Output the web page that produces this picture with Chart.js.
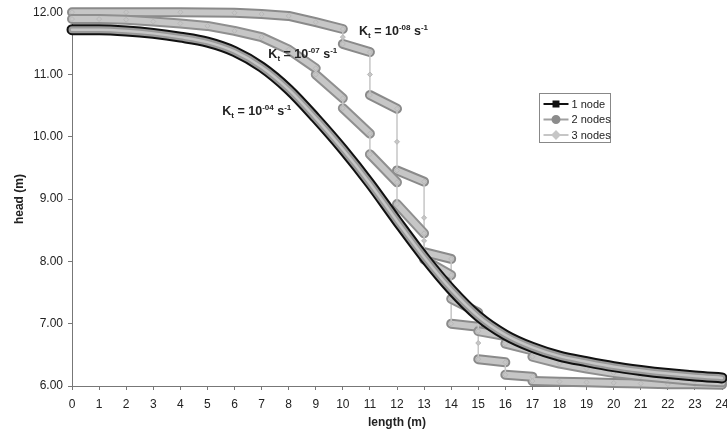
<!DOCTYPE html>
<html>
<head>
<meta charset="utf-8">
<script src="https://cdn.jsdelivr.net/npm/chart.js@4.4.1/dist/chart.umd.min.js"></script>
<style>
  html, body { margin: 0; padding: 0; background: #fff; }
  #wrap { width: 727px; height: 436px; }
</style>
</head>
<body>
<div id="wrap"><canvas id="headChart"></canvas></div>
<script>
// values (length in m, head in m)
const lengthKt4 = [0, 1, 2, 3, 4, 5, 6, 7, 8, 9, 10, 11, 12, 13, 14, 15, 16, 17, 18, 19, 20, 21, 22, 23, 24];
const headKt4 = [11.72, 11.72, 11.70, 11.66, 11.60, 11.52, 11.37, 11.12, 10.76, 10.30, 9.80, 9.25, 8.65, 8.07, 7.55, 7.12, 6.82, 6.62, 6.48, 6.39, 6.31, 6.25, 6.20, 6.16, 6.13];

const lengthKt7 = [0, 1, 2, 3, 4, 5, 6, 7, 8, 9, 9, 10, 10, 11, 11, 12, 12, 13, 13, 14, 14, 15, 15, 16, 16, 17, 17, 18, 19, 20, 21, 22, 23, 24];
const headKt7 = [11.89, 11.89, 11.88, 11.85, 11.82, 11.78, 11.70, 11.60, 11.40, 11.10, 11.00, 10.62, 10.46, 10.05, 9.72, 9.27, 8.92, 8.45, 8.03, 7.78, 7.40, 7.18, 6.88, 6.80, 6.68, 6.57, 6.47, 6.36, 6.28, 6.21, 6.16, 6.12, 6.08, 6.06];

const lengthKt8 = [0, 2, 4, 6, 7, 8, 9, 10, 10, 10, 11, 11, 11, 12, 12, 12, 13, 13, 13, 13, 14, 14, 14, 15, 15, 15, 16, 16, 17, 17, 18, 19, 20, 21, 22, 23, 24];
const headKt8 = [12.00, 12.00, 12.00, 11.99, 11.97, 11.94, 11.84, 11.73, 11.60, 11.49, 11.36, 11.00, 10.67, 10.45, 9.92, 9.46, 9.28, 8.70, 8.33, 8.15, 8.04, 7.53, 7.00, 6.95, 6.69, 6.43, 6.38, 6.18, 6.15, 6.08, 6.07, 6.06, 6.05, 6.04, 6.03, 6.03, 6.02];

const seriesNames = ['1 node', '2 nodes', '3 nodes'];

// K_t labels, placed in data units
const ktLabels = [
    { exp: '-08', x: 10.6, y: 11.63 },
    { exp: '-07', x: 7.25, y: 11.26 },
    { exp: '-04', x: 5.55, y: 10.35 }
];

const pts = (xs, ys) => xs.map((x, i) => ({ x: x, y: ys[i] }));
const isJump = c => c.p0.parsed.x === c.p1.parsed.x;

const DARK = '#111111';
const MID = '#9a9a9a';
const LIGHT = '#c6c6c6';

// tube with the jumps hidden (2 nodes)
function tube(label, xs, ys, color, width, order) {
    return {
        label: label, data: pts(xs, ys), order: order, clip: false,
        borderColor: color, borderWidth: width, pointRadius: 0,
        borderCapStyle: 'round', borderJoinStyle: 'round', tension: 0,
        segment: { borderColor: c => isJump(c) ? 'rgba(0,0,0,0)' : undefined }
    };
}
// lighter tube whose jumps are drawn as a thin line with diamonds (3 nodes)
function tubeLinked(label, xs, ys, width, order) {
    return {
        label: label, data: pts(xs, ys), order: order, clip: false,
        borderColor: LIGHT, borderWidth: width,
        pointStyle: 'rectRot', pointRadius: 2.5, pointBackgroundColor: LIGHT, pointBorderColor: '#b8b8b8', pointBorderWidth: 1,
        borderCapStyle: 'round', borderJoinStyle: 'round', tension: 0,
        segment: { borderWidth: c => isJump(c) ? 1.5 : undefined }
    };
}

const datasets = [
    tube('2 nodes', lengthKt8, headKt8, '#8a8a8a', 10, 7),
    tubeLinked('3 nodes', lengthKt8, headKt8, 6, 6),
    tube('2 nodes', lengthKt7, headKt7, '#8f8f8f', 10, 5),
    tubeLinked('3 nodes', lengthKt7, headKt7, 6, 4),
    { label: '1 node', data: pts(lengthKt4, headKt4), order: 3, clip: false, borderColor: DARK, borderWidth: 11,
      pointRadius: 0, cubicInterpolationMode: 'monotone', borderCapStyle: 'round' },
    { label: '2 nodes', data: pts(lengthKt4, headKt4), order: 2, clip: false, borderColor: MID, borderWidth: 7,
      pointRadius: 0, cubicInterpolationMode: 'monotone', borderCapStyle: 'round' },
    { label: '3 nodes', data: pts(lengthKt4, headKt4), order: 1, clip: false, borderColor: LIGHT, borderWidth: 2.5,
      pointRadius: 0, cubicInterpolationMode: 'monotone', borderCapStyle: 'round' }
];

function drawKt(ctx, px, py, exp) {
    const big = 'bold 12.5px "Liberation Sans", Arial, sans-serif';
    const small = 'bold 8px "Liberation Sans", Arial, sans-serif';
    const parts = [['K', big, 0], ['t', small, 3], [' = 10', big, 0], [exp, small, -5], [' s', big, 0], ['-1', small, -5]];
    ctx.save();
    ctx.fillStyle = '#222';
    ctx.textBaseline = 'alphabetic';
    let cx = px;
    parts.forEach(p => {
        ctx.font = p[1];
        ctx.fillText(p[0], cx, py + p[2]);
        cx += ctx.measureText(p[0]).width;
    });
    ctx.restore();
}

const legendStyles = [
    { color: DARK, fill: DARK, style: 'rect', r: 3.5 },
    { color: '#a0a0a0', fill: '#8c8c8c', style: 'circle', r: 3.5 },
    { color: LIGHT, fill: LIGHT, style: 'rectRot', r: 3.5 }
];

const overlay = {
    id: 'overlay',
    afterDatasetsDraw(chart) {
        const { ctx, scales } = chart;
        ktLabels.forEach(l => drawKt(ctx, scales.x.getPixelForValue(l.x), scales.y.getPixelForValue(l.y), l.exp));
    },
    afterDraw(chart) {
        const ctx = chart.ctx;
        const area = chart.chartArea;
        const bx = Math.round(area.right - 183) + 0.5;
        const by = Math.round(area.top + 81) + 0.5;
        ctx.save();
        ctx.fillStyle = '#fff';
        ctx.fillRect(bx, by, 71, 49);
        ctx.strokeStyle = '#888';
        ctx.lineWidth = 1;
        ctx.strokeRect(bx, by, 71, 49);
        seriesNames.forEach((name, i) => {
            const s = legendStyles[i];
            const ey = by + 10.5 + i * 15.5;
            ctx.strokeStyle = s.color;
            ctx.lineWidth = 2;
            ctx.beginPath();
            ctx.moveTo(bx + 4, ey);
            ctx.lineTo(bx + 29, ey);
            ctx.stroke();
            ctx.fillStyle = s.fill;
            ctx.strokeStyle = s.fill;
            Chart.helpers.drawPoint(ctx, { pointStyle: s.style, radius: s.r, borderWidth: 1, rotation: 0 }, bx + 16.5, ey);
            ctx.fillStyle = '#222';
            ctx.font = '11px "Liberation Sans", Arial, sans-serif';
            ctx.textBaseline = 'middle';
            ctx.fillText(name, bx + 32, ey + 0.5);
        });
        ctx.restore();
    }
};

const tickFont = { family: '"Liberation Sans", Arial, sans-serif', size: 12 };
const titleFont = { family: '"Liberation Sans", Arial, sans-serif', size: 12, weight: 'bold' };

const config = {
    type: 'line',
    data: { datasets: datasets },
    options: {
        responsive: true,
        maintainAspectRatio: false,
        animation: false,
        layout: { padding: { top: 9, right: 4, left: 0, bottom: 0 } },
        plugins: { legend: { display: false }, tooltip: { enabled: false } },
        scales: {
            x: {
                type: 'linear', min: 0, max: 24,
                ticks: { stepSize: 1, color: '#222', font: tickFont, padding: 7, maxRotation: 0, autoSkip: false },
                grid: { drawOnChartArea: false, tickLength: 4, color: '#777' },
                border: { color: '#777' },
                title: { display: true, text: 'length (m)', color: '#222', font: titleFont, padding: { top: 4, bottom: 6 } },
                afterFit: s => { s.height = 50; s.paddingRight = 0; s.paddingLeft = 0; }
            },
            y: {
                min: 6, max: 12,
                ticks: { stepSize: 1, color: '#222', font: tickFont, padding: 5, callback: v => v.toFixed(2) },
                grid: { drawOnChartArea: false, tickLength: 4, color: '#777' },
                border: { color: '#777' },
                title: { display: true, text: 'head (m)', color: '#222', font: titleFont, padding: { top: 12, bottom: 0 } },
                afterFit: s => { s.width = 72; }
            }
        }
    },
    plugins: [overlay]
};

const headChart = new Chart(document.getElementById('headChart'), config);
</script>
</body>
</html>
